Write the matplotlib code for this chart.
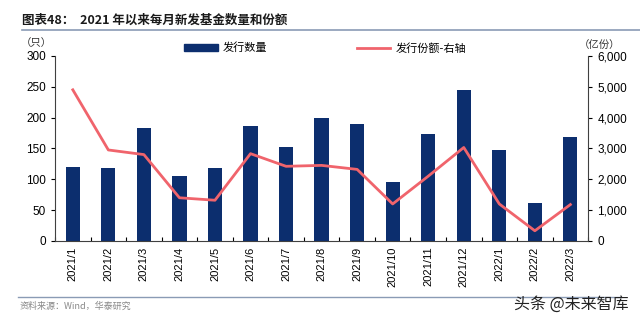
import matplotlib
matplotlib.use("Agg")
import matplotlib.pyplot as plt
from matplotlib.lines import Line2D
from matplotlib.patches import Patch

plt.rcParams['font.family'] = ['Noto Sans CJK SC', 'DejaVu Sans']

months = ["2021/1", "2021/2", "2021/3", "2021/4", "2021/5", "2021/6", "2021/7", "2021/8",
          "2021/9", "2021/10", "2021/11", "2021/12", "2022/1", "2022/2", "2022/3"]
counts = [120, 119, 183, 105, 118, 186, 152, 199, 189, 96, 174, 244, 147, 62, 169]
shares = [4900, 2950, 2800, 1400, 1320, 2830, 2420, 2450, 2320, 1200, 2100, 3030, 1200, 330, 1180]

bar_color = "#0c2e6e"
line_color = "#f0646c"

fig = plt.figure(figsize=(6.4, 3.23), dpi=100)
ax = fig.add_axes([0.086, 0.254, 0.833, 0.573])
x = list(range(len(months)))
ax.bar(x, counts, width=0.4, color=bar_color, zorder=2)
ax.set_ylim(0, 300)
ax.set_yticks(range(0, 301, 50))
ax.set_xlim(-0.5, len(months) - 0.5)
ax.set_xticks([i - 0.5 for i in range(len(months) + 1)], minor=False)
ax.set_xticklabels([])
ax.set_xticks(x, minor=True)
ax.set_xticklabels(months, minor=True, rotation=90, fontsize=8, family='Liberation Sans')
ax.tick_params(axis='x', which='minor', length=0, pad=4)
ax.tick_params(axis='x', which='major', length=3, direction='in')
ax.tick_params(axis='y', labelsize=8.5, length=3, direction='out')
for lab in ax.get_yticklabels():
    lab.set_family('Liberation Sans')
for s in ['top', 'right']:
    ax.spines[s].set_visible(False)
for s in ['left', 'bottom']:
    ax.spines[s].set_color('#404040')

ax2 = ax.twinx()
ax2.plot(x, shares, color=line_color, lw=2, zorder=3)
ax2.set_ylim(0, 6000)
ax2.set_yticks(range(0, 6001, 1000))
ax2.set_yticklabels([f"{v:,}" for v in range(0, 6001, 1000)], fontsize=8.5, family='Liberation Sans')
ax2.tick_params(axis='y', length=3, direction='out')
for s in ['top', 'left', 'bottom']:
    ax2.spines[s].set_visible(False)
ax2.spines['right'].set_color('#404040')

# axis unit labels
fig.text(36/640, 1 - 43/323, "（只）", fontsize=7.5, ha='center', va='center', color='#333333')
fig.text(600/640, 1 - 45/323, "（亿份）", fontsize=7.5, ha='center', va='center', color='#333333')

# legend
handles = [Patch(color=bar_color), Line2D([0], [0], color=line_color, lw=2)]
fig.legend(handles, ["发行数量", "发行份额-右轴"], loc='center', bbox_to_anchor=(0.508, 1 - 48/323),
           ncol=2, frameon=False, fontsize=8, columnspacing=8, handlelength=3.0,
           handleheight=0.5, handletextpad=0.5)

# title
fig.text(22/640, 1 - 20/323, "图表48：  2021 年以来每月新发基金数量和份额", fontsize=9,
         fontweight='bold', ha='left', va='center', color='#1a1a1a')
fig.add_artist(Line2D([22/640, 1.0], [1 - 30/323, 1 - 30/323], color='#8a9bb5', lw=1.2))

# footer
fig.add_artist(Line2D([18/640, 0.97], [1 - 297/323, 1 - 297/323], color='#8a9bb5', lw=1))
fig.text(20/640, 1 - 306/323, "资料来源：Wind，华泰研究", fontsize=6.5, color='#888888',
         ha='left', va='center')
fig.text(514/640, 1 - 304/323, "头条 @未来智库", fontsize=11.5, color='#222222',
         ha='left', va='center')

fig.savefig("out.png", dpi=100)
